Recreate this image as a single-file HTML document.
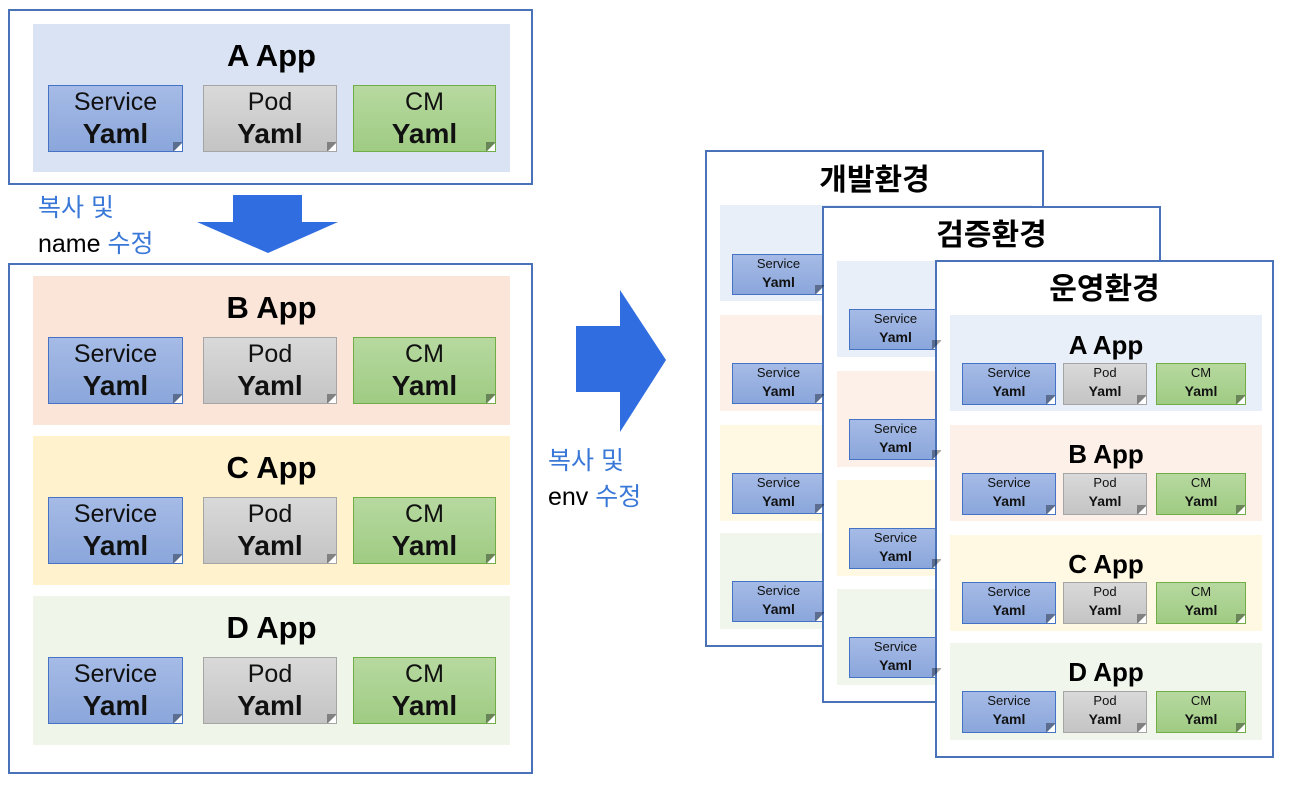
<!DOCTYPE html>
<html><head><meta charset="utf-8"><style>
*{margin:0;padding:0;box-sizing:border-box}
body{width:1290px;height:790px;background:#fff;position:relative;overflow:hidden;font-family:"Liberation Sans","Noto Sans CJK KR",sans-serif}
div{position:absolute}
.box{border:2.5px solid #4a72b8;background:#fff}
.t{text-align:center;font-weight:bold;color:#000;white-space:nowrap}
.c{text-align:center;color:#111;overflow:hidden}
.c b{display:block}
.s{background:linear-gradient(#a6bbe6,#8aa6db);border:1px solid #4472c4}
.p{background:linear-gradient(#d9d9d9,#c4c4c4);border:1px solid #a5a5a5}
.m{background:linear-gradient(#b7d9a0,#9fcb83);border:1px solid #70ad47}
.c::after{content:"";position:absolute;right:-1px;bottom:-1px;width:10px;height:10px;background:#fff;clip-path:polygon(100% 0,0 100%,100% 100%)}
.c::before{content:"";position:absolute;right:-1px;bottom:-1px;width:10px;height:10px;background:rgba(0,0,0,.35);clip-path:polygon(100% 0,0 100%,0 0);z-index:1}
.L{font-size:25px;line-height:32px}
.L b{font-size:28px;line-height:32px}
.R{font-size:13px;line-height:18px}
.R b{font-size:14px;line-height:18px}
.blue{color:#3a78d8}
</style></head><body>

<!-- Left top box -->
<div class="box" style="left:8px;top:9px;width:525px;height:176px"></div>
<div style="left:33px;top:24px;width:477px;height:148px;background:#dae3f3"></div>
<div class="t" style="left:33px;top:38px;width:477px;font-size:31px">A App</div>
<div class="c s L" style="left:48px;top:85px;width:135px;height:67px">Service<b>Yaml</b></div>
<div class="c p L" style="left:203px;top:85px;width:134px;height:67px">Pod<b>Yaml</b></div>
<div class="c m L" style="left:353px;top:85px;width:143px;height:67px">CM<b>Yaml</b></div>

<!-- down arrow -->
<svg style="position:absolute;left:0;top:0" width="1290" height="790">
<polygon points="233,195 302,195 302,222 338,222 268,253 197,222 233,222" fill="#2f6de0"/>
<polygon points="576,326 620,326 620,290 666,360 620,432 620,392 576,392" fill="#2f6de0"/>
</svg>
<div class="blue" style="left:38px;top:192px;font-size:25px;line-height:32px">복사 및</div>
<div style="left:38px;top:228px;font-size:25px;line-height:32px">name <span class="blue">수정</span></div>

<!-- Left bottom box -->
<div class="box" style="left:8px;top:263px;width:525px;height:511px"></div>

<div style="left:33px;top:276px;width:477px;height:149px;background:#fbe5d8"></div>
<div class="t" style="left:33px;top:290px;width:477px;font-size:31px">B App</div>
<div class="c s L" style="left:48px;top:337px;width:135px;height:67px">Service<b>Yaml</b></div>
<div class="c p L" style="left:203px;top:337px;width:134px;height:67px">Pod<b>Yaml</b></div>
<div class="c m L" style="left:353px;top:337px;width:143px;height:67px">CM<b>Yaml</b></div>

<div style="left:33px;top:436px;width:477px;height:149px;background:#fff2cc"></div>
<div class="t" style="left:33px;top:450px;width:477px;font-size:31px">C App</div>
<div class="c s L" style="left:48px;top:497px;width:135px;height:67px">Service<b>Yaml</b></div>
<div class="c p L" style="left:203px;top:497px;width:134px;height:67px">Pod<b>Yaml</b></div>
<div class="c m L" style="left:353px;top:497px;width:143px;height:67px">CM<b>Yaml</b></div>

<div style="left:33px;top:596px;width:477px;height:149px;background:#eff6e9"></div>
<div class="t" style="left:33px;top:610px;width:477px;font-size:31px">D App</div>
<div class="c s L" style="left:48px;top:657px;width:135px;height:67px">Service<b>Yaml</b></div>
<div class="c p L" style="left:203px;top:657px;width:134px;height:67px">Pod<b>Yaml</b></div>
<div class="c m L" style="left:353px;top:657px;width:143px;height:67px">CM<b>Yaml</b></div>

<div class="blue" style="left:548px;top:445px;font-size:25px;line-height:32px">복사 및</div>
<div style="left:548px;top:481px;font-size:25px;line-height:32px">env <span class="blue">수정</span></div>

<!-- Window 1 -->
<div class="box" style="left:705px;top:150px;width:339px;height:497px"></div>
<div class="t" style="left:705px;top:161px;width:339px;font-size:30px;line-height:40px">개발환경</div>
<div style="left:720px;top:205px;width:312px;height:96px;background:#e9eff8"></div>
<div style="left:720px;top:315px;width:312px;height:96px;background:#fdf0e8"></div>
<div style="left:720px;top:425px;width:312px;height:96px;background:#fff8e3"></div>
<div style="left:720px;top:533px;width:312px;height:96px;background:#f0f6eb"></div>
<div class="c s R" style="left:732px;top:254px;width:93px;height:41px">Service<b>Yaml</b></div>
<div class="c s R" style="left:732px;top:363px;width:93px;height:41px">Service<b>Yaml</b></div>
<div class="c s R" style="left:732px;top:473px;width:93px;height:41px">Service<b>Yaml</b></div>
<div class="c s R" style="left:732px;top:581px;width:93px;height:41px">Service<b>Yaml</b></div>

<!-- Window 2 -->
<div class="box" style="left:822px;top:206px;width:339px;height:497px"></div>
<div class="t" style="left:822px;top:216px;width:339px;font-size:30px;line-height:40px">검증환경</div>
<div style="left:837px;top:261px;width:312px;height:96px;background:#e9eff8"></div>
<div style="left:837px;top:371px;width:312px;height:96px;background:#fdf0e8"></div>
<div style="left:837px;top:480px;width:312px;height:96px;background:#fff8e3"></div>
<div style="left:837px;top:589px;width:312px;height:96px;background:#f0f6eb"></div>
<div class="c s R" style="left:849px;top:309px;width:93px;height:41px">Service<b>Yaml</b></div>
<div class="c s R" style="left:849px;top:419px;width:93px;height:41px">Service<b>Yaml</b></div>
<div class="c s R" style="left:849px;top:528px;width:93px;height:41px">Service<b>Yaml</b></div>
<div class="c s R" style="left:849px;top:637px;width:93px;height:41px">Service<b>Yaml</b></div>

<!-- Window 3 -->
<div class="box" style="left:935px;top:260px;width:339px;height:498px"></div>
<div class="t" style="left:935px;top:270px;width:339px;font-size:30px;line-height:40px">운영환경</div>

<div style="left:950px;top:315px;width:312px;height:96px;background:#e9eff8"></div>
<div class="t" style="left:950px;top:329px;width:312px;font-size:26px;line-height:32px">A App</div>
<div class="c s R" style="left:962px;top:363px;width:94px;height:42px">Service<b>Yaml</b></div>
<div class="c p R" style="left:1063px;top:363px;width:84px;height:42px">Pod<b>Yaml</b></div>
<div class="c m R" style="left:1156px;top:363px;width:90px;height:42px">CM<b>Yaml</b></div>

<div style="left:950px;top:425px;width:312px;height:96px;background:#fdf0e8"></div>
<div class="t" style="left:950px;top:438px;width:312px;font-size:26px;line-height:32px">B App</div>
<div class="c s R" style="left:962px;top:473px;width:94px;height:42px">Service<b>Yaml</b></div>
<div class="c p R" style="left:1063px;top:473px;width:84px;height:42px">Pod<b>Yaml</b></div>
<div class="c m R" style="left:1156px;top:473px;width:90px;height:42px">CM<b>Yaml</b></div>

<div style="left:950px;top:535px;width:312px;height:96px;background:#fff8e3"></div>
<div class="t" style="left:950px;top:548px;width:312px;font-size:26px;line-height:32px">C App</div>
<div class="c s R" style="left:962px;top:582px;width:94px;height:42px">Service<b>Yaml</b></div>
<div class="c p R" style="left:1063px;top:582px;width:84px;height:42px">Pod<b>Yaml</b></div>
<div class="c m R" style="left:1156px;top:582px;width:90px;height:42px">CM<b>Yaml</b></div>

<div style="left:950px;top:643px;width:312px;height:97px;background:#f0f6eb"></div>
<div class="t" style="left:950px;top:656px;width:312px;font-size:26px;line-height:32px">D App</div>
<div class="c s R" style="left:962px;top:691px;width:94px;height:42px">Service<b>Yaml</b></div>
<div class="c p R" style="left:1063px;top:691px;width:84px;height:42px">Pod<b>Yaml</b></div>
<div class="c m R" style="left:1156px;top:691px;width:90px;height:42px">CM<b>Yaml</b></div>

</body></html>
